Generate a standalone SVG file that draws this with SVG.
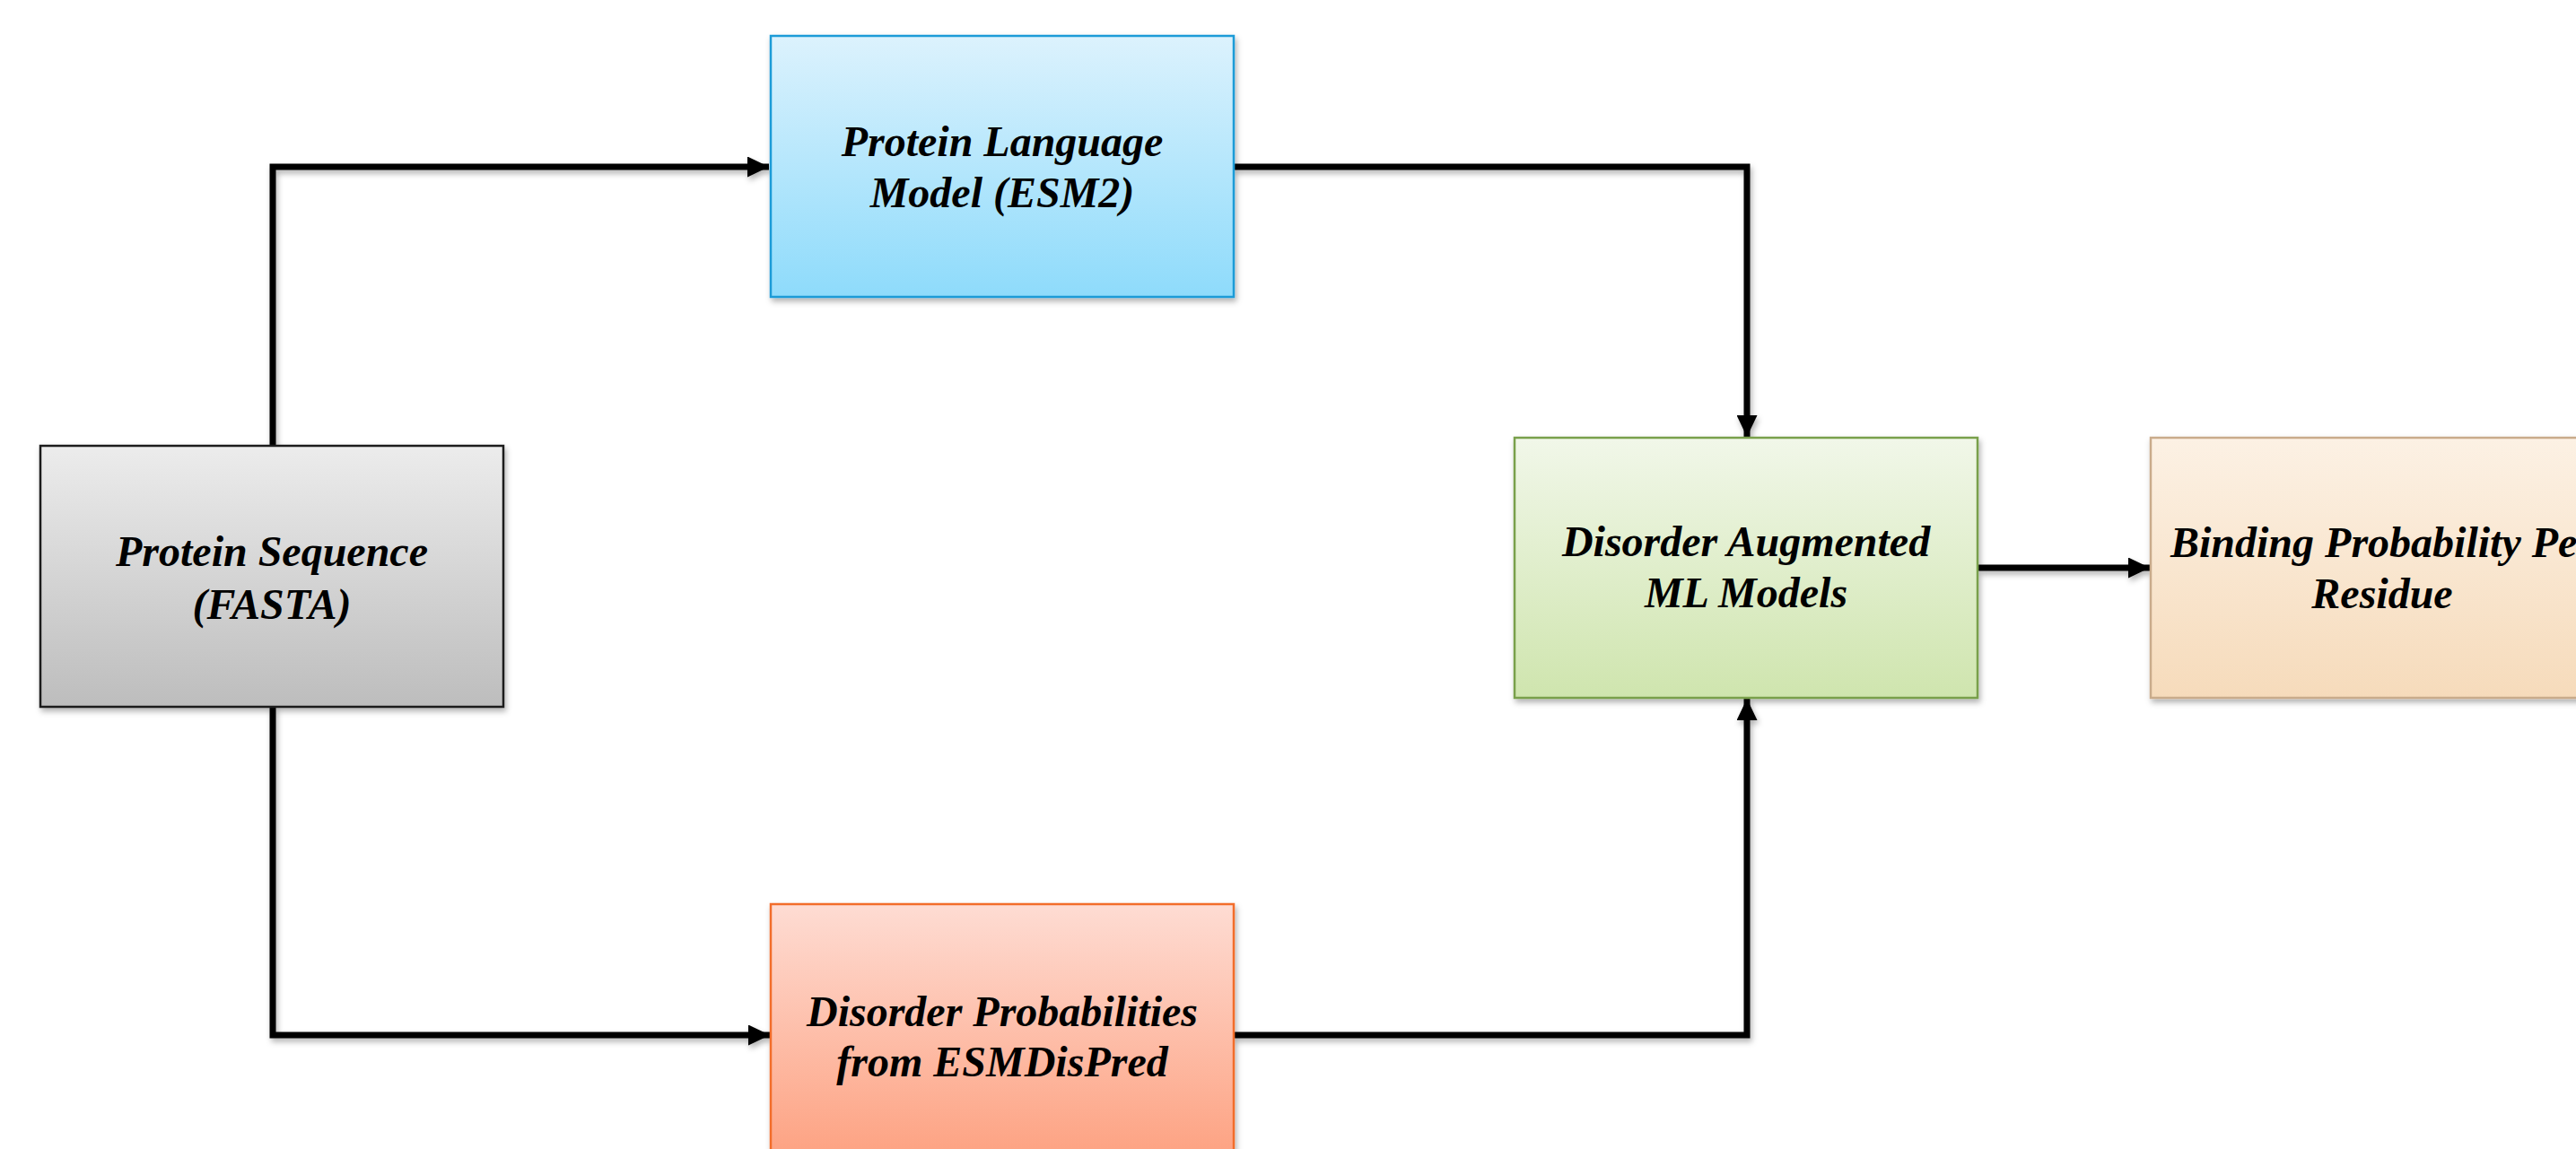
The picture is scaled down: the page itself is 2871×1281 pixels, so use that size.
<svg xmlns="http://www.w3.org/2000/svg" width="2871" height="1281" viewBox="0 0 2871 1281">
<style>
.box{stroke-width:2.5}
.lbl{font-family:"Liberation Serif","Times New Roman",serif;font-weight:bold;font-style:italic;font-size:48px;fill:#000;text-anchor:middle}
.conn{fill:none;stroke:#000;stroke-width:7;stroke-linejoin:miter}
</style>
<defs>
<linearGradient id="gGray" x1="0" y1="0" x2="0" y2="1"><stop offset="0" stop-color="#ececec"/><stop offset="1" stop-color="#bdbdbd"/></linearGradient>
<linearGradient id="gBlue" x1="0" y1="0" x2="0" y2="1"><stop offset="0" stop-color="#dcf2fd"/><stop offset="1" stop-color="#8edbfb"/></linearGradient>
<linearGradient id="gGreen" x1="0" y1="0" x2="0" y2="1"><stop offset="0" stop-color="#f1f7e9"/><stop offset="1" stop-color="#cfe5ae"/></linearGradient>
<linearGradient id="gPeach" x1="0" y1="0" x2="0" y2="1"><stop offset="0" stop-color="#fcf1e4"/><stop offset="1" stop-color="#f6dbbb"/></linearGradient>
<linearGradient id="gRed" x1="0" y1="0" x2="0" y2="1"><stop offset="0" stop-color="#fedcd3"/><stop offset="1" stop-color="#fda07f"/></linearGradient>
<filter id="sh" x="-10%" y="-10%" width="130%" height="130%"><feDropShadow dx="2" dy="4" stdDeviation="3" flood-color="#000" flood-opacity="0.3"/></filter>
<marker id="ah" markerUnits="userSpaceOnUse" markerWidth="24" markerHeight="23" refX="24" refY="11.5" orient="auto"><path d="M0,0 L24,11.5 L0,23 z" fill="#000"/></marker>
</defs>
<rect width="2871" height="1281" fill="#fff"/>
<g id="connectors" filter="url(#sh)">
<path class="conn" d="M304,497 V186 H857" marker-end="url(#ah)"/>
<path class="conn" d="M304,788 V1154 H858" marker-end="url(#ah)"/>
<path class="conn" d="M1375,186 H1947 V487" marker-end="url(#ah)"/>
<path class="conn" d="M1375,1154 H1947 V779" marker-end="url(#ah)"/>
<path class="conn" d="M2205,633 H2396" marker-end="url(#ah)"/>
</g>
<g id="protein-sequence">
<rect class="box" x="45" y="497" width="516" height="291" fill="url(#gGray)" stroke="#1e1e1e" filter="url(#sh)"/>
<text class="lbl" x="303" y="631">Protein Sequence</text>
<text class="lbl" x="303" y="690">(FASTA)</text>
</g>
<g id="plm">
<rect class="box" x="859" y="40" width="516" height="291" fill="url(#gBlue)" stroke="#1a9bd7" filter="url(#sh)"/>
<text class="lbl" x="1117" y="174">Protein Language</text>
<text class="lbl" x="1117" y="231">Model (ESM2)</text>
</g>
<g id="disorder-prob">
<rect class="box" x="859" y="1008" width="516" height="291" fill="url(#gRed)" stroke="#f26d2c" filter="url(#sh)"/>
<text class="lbl" x="1117" y="1144">Disorder Probabilities</text>
<text class="lbl" x="1117" y="1200">from ESMDisPred</text>
</g>
<g id="daml">
<rect class="box" x="1688" y="488" width="516" height="290" fill="url(#gGreen)" stroke="#79a04b" filter="url(#sh)"/>
<text class="lbl" x="1946" y="620">Disorder Augmented</text>
<text class="lbl" x="1946" y="677">ML Models</text>
</g>
<g id="binding">
<rect class="box" x="2397" y="488" width="516" height="290" fill="url(#gPeach)" stroke="#c9ab8b" filter="url(#sh)"/>
<text class="lbl" x="2655" y="621">Binding Probability Per</text>
<text class="lbl" x="2655" y="678">Residue</text>
</g>
</svg>
